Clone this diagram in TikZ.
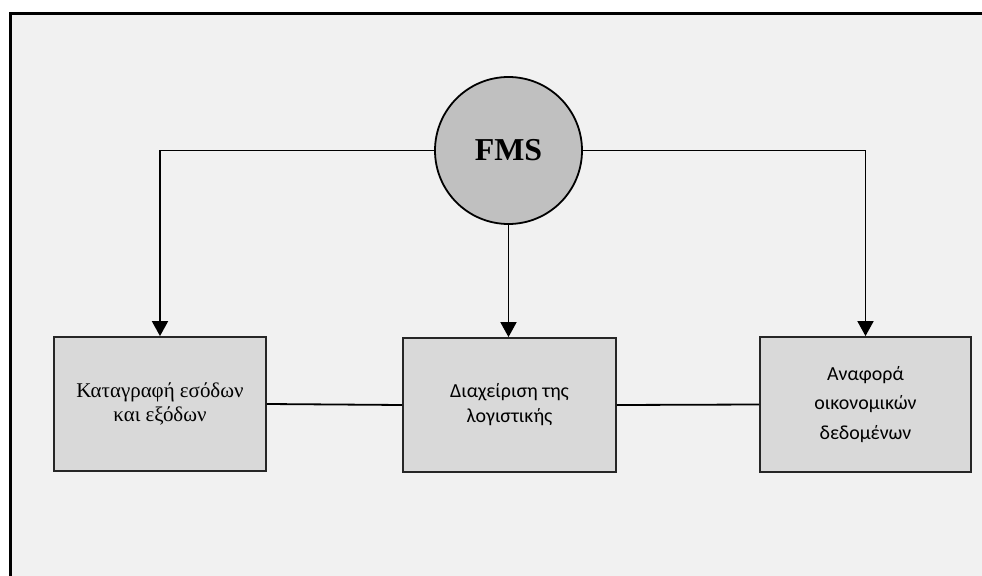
\documentclass[tikz,border=0pt]{standalone}
\usepackage{fontspec}
\setmainfont{Liberation Serif}
\newfontfamily\carlito{Carlito}
\usetikzlibrary{arrows.meta}

\definecolor{panel}{HTML}{F1F1F1}
\definecolor{hubfill}{HTML}{C0C0C0}
\definecolor{boxfill}{HTML}{D9D9D9}

\tikzset{
  hub/.style={circle, draw=black, line width=1.8bp, fill=hubfill,
    minimum size=147bp, inner sep=0pt,
    font=\fontsize{32}{38}\selectfont\bfseries},
  block/.style={rectangle, draw=black!85, line width=1.8bp, fill=boxfill,
    minimum width=212bp, minimum height=134bp, inner sep=0pt,
    align=center},
  serifbox/.style={block, font=\fontsize{21}{25}\selectfont},
  sansbox/.style={block, font=\carlito\fontsize{20}{25}\selectfont},
  sansboxwide/.style={block, font=\carlito\fontsize{20}{30}\selectfont},
  link/.style={draw=black, line width=1.8bp},
  feed/.style={link, -{Triangle[length=15bp,width=16bp]}},
}

\begin{document}
\begin{tikzpicture}[x=1bp,y=-1bp]
  \useasboundingbox (0,0) rectangle (982,576);
  \fill[white] (0,0) rectangle (982,576);

  % outer panel: only its top and left edges fall inside the page
  \fill[panel] (10.5,13.5) rectangle (982,576);
  \draw[line width=3bp] (982,13.5) -- (10.5,13.5) -- (10.5,576);

  % hub and the three functions
  \node[hub] (fms) at (508.5,150.5) {FMS};
  \node[serifbox] (rec) at (160,404) {Καταγραφή εσόδων\\και εξόδων};
  \node[sansbox, minimum width=213bp] (acc) at (509.5,405) {Διαχείριση της\\λογιστικής};
  \node[sansboxwide, minimum width=211bp, minimum height=135bp] (rep) at (865.5,404.5) {Αναφορά\\οικονομικών\\δεδομένων};

  % feeds from the hub
  \draw[feed] (fms.west) -| (rec.north);
  \draw[feed] (fms.east) -| (rep.north);
  \draw[feed] (fms.south) -- (fms.south |- acc.north);

  % links between neighbouring functions
  \draw[link] (rec.east) -- (acc.west);
  \draw[link] (acc.east) -- (rep.west);
\end{tikzpicture}
\end{document}
